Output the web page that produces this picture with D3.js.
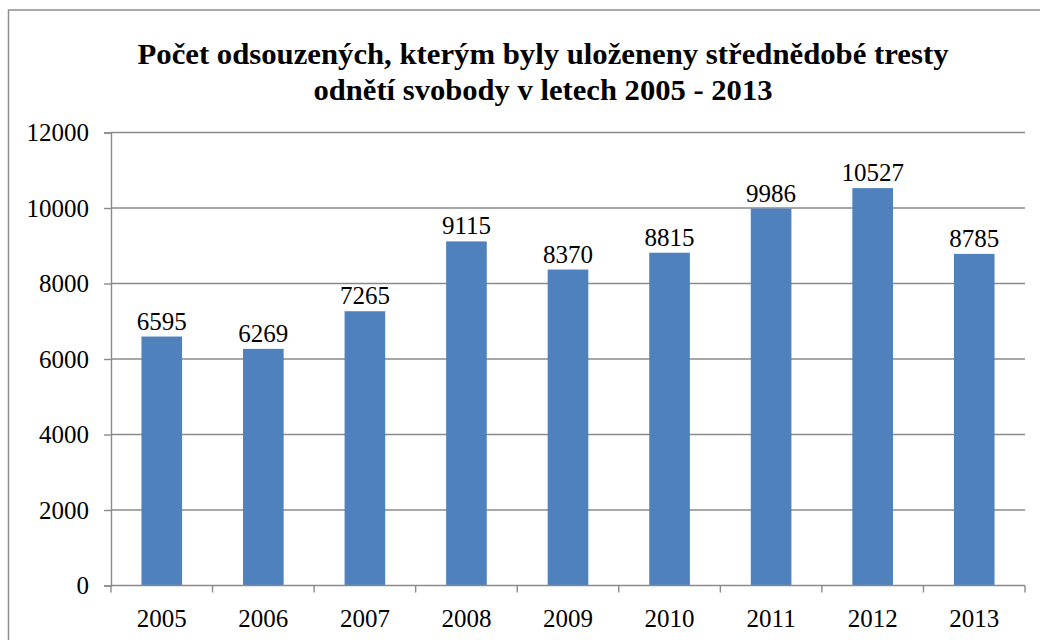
<!DOCTYPE html>
<html>
<head>
<meta charset="utf-8">
<script src="https://cdn.jsdelivr.net/npm/d3@7"></script>
<style>
  body { margin: 0; background: #fff; }
  svg { display: block; }
  .ser { font-family: "Liberation Serif", Tinos, "Times New Roman", Times, serif; }
</style>
</head>
<body>
<div id="chart"></div>
<script>
// data
const years = ['2005', '2006', '2007', '2008', '2009', '2010', '2011', '2012', '2013'];
const counts = [6595, 6269, 7265, 9115, 8370, 8815, 9986, 10527, 8785];
const yTicks = [0, 2000, 4000, 6000, 8000, 10000, 12000];
const titleLines = [
  'Počet odsouzených, kterým byly uloženeny střednědobé tresty',
  'odnětí svobody v letech 2005 - 2013'
];

const width = 1040, height = 640;
const plot = {left: 111, right: 1025, top: 132.5, bottom: 585.5};
const gridColor = '#8a8a8a';

const svg = d3.select('#chart')
  .append('svg')
  .attr('width', width)
  .attr('height', height);

// outer chart border (cut off right and bottom like the source)
svg.append('rect')
  .attr('x', 8.5).attr('y', 10)
  .attr('width', 1200).attr('height', 1000)
  .attr('fill', 'none')
  .attr('stroke', '#8e8e8e')
  .attr('stroke-width', 1.5);

const xScale = d3.scaleBand()
  .domain(years)
  .range([plot.left, plot.right])
  .paddingInner(0.6)
  .paddingOuter(0.3);

const yScale = d3.scaleLinear()
  .domain([0, 12000])
  .range([plot.bottom, plot.top]);

// title - widths measured from the source
const titleWidths = [811, 459];
svg.append('g')
  .selectAll('text')
  .data(titleLines)
  .join('text')
    .attr('class', 'ser')
    .attr('text-anchor', 'middle')
    .attr('font-weight', 'bold')
    .attr('font-size', '30px')
    .attr('fill', '#000')
    .attr('x', 543)
    .attr('y', (d, i) => 63.5 + i * 36)
    .attr('textLength', (d, i) => titleWidths[i])
    .attr('lengthAdjust', 'spacingAndGlyphs')
    .text(d => d);

// horizontal gridlines
svg.append('g')
  .selectAll('line')
  .data(yTicks.filter(d => d > 0))
  .join('line')
    .attr('x1', plot.left).attr('x2', plot.right)
    .attr('y1', d => yScale(d)).attr('y2', d => yScale(d))
    .attr('stroke', gridColor)
    .attr('stroke-width', 1.4);

// y axis
const yAxis = svg.append('g')
  .attr('transform', `translate(${plot.left},0)`)
  .call(d3.axisLeft(yScale).tickValues(yTicks).tickSize(7).tickPadding(15).tickFormat(d3.format('d')));
yAxis.selectAll('path, line').attr('stroke', gridColor).attr('stroke-width', 1.4);
yAxis.attr('font-family', null);
yAxis.selectAll('text')
  .attr('class', 'ser')
  .attr('font-size', '25px')
  .attr('fill', '#000');

// bars
svg.append('g')
  .selectAll('rect')
  .data(counts)
  .join('rect')
    .attr('x', (d, i) => xScale(years[i]))
    .attr('y', d => yScale(d))
    .attr('width', xScale.bandwidth())
    .attr('height', d => yScale(0) - yScale(d))
    .attr('fill', '#4f81bd');

// value labels
svg.append('g')
  .selectAll('text')
  .data(counts)
  .join('text')
    .attr('class', 'ser')
    .attr('x', (d, i) => xScale(years[i]) + xScale.bandwidth() / 2)
    .attr('y', d => yScale(d) - 7)
    .attr('text-anchor', 'middle')
    .attr('font-size', '25px')
    .attr('fill', '#000')
    .text(d => d);

// x axis with ticks between categories
const step = (plot.right - plot.left) / years.length;
const xAxis = svg.append('g');
xAxis.append('line')
  .attr('x1', plot.left).attr('x2', plot.right)
  .attr('y1', plot.bottom).attr('y2', plot.bottom)
  .attr('stroke', gridColor).attr('stroke-width', 1.4);
xAxis.selectAll('.tick')
  .data(d3.range(years.length + 1))
  .join('line')
    .attr('class', 'tick')
    .attr('x1', i => plot.left + i * step).attr('x2', i => plot.left + i * step)
    .attr('y1', plot.bottom).attr('y2', plot.bottom + 7)
    .attr('stroke', gridColor).attr('stroke-width', 1.4);
xAxis.selectAll('text')
  .data(years)
  .join('text')
    .attr('class', 'ser')
    .attr('x', d => xScale(d) + xScale.bandwidth() / 2)
    .attr('y', 627)
    .attr('text-anchor', 'middle')
    .attr('font-size', '25px')
    .attr('fill', '#000')
    .text(d => d);
</script>
</body>
</html>
